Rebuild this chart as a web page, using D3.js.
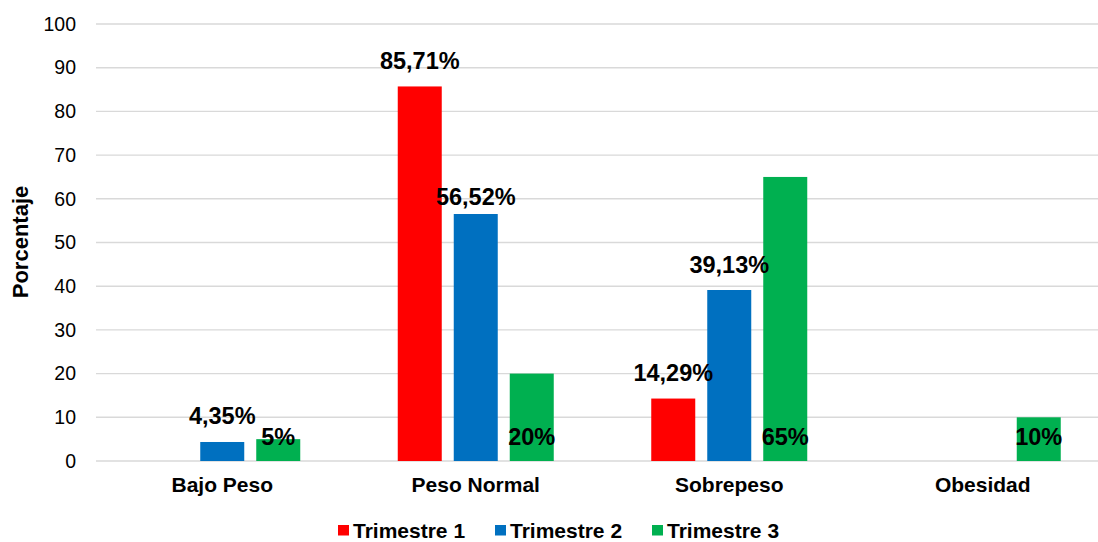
<!DOCTYPE html>
<html>
<head>
<meta charset="utf-8">
<script src="https://cdn.jsdelivr.net/npm/d3@7"></script>
<style>
  html, body { margin: 0; padding: 0; background: #ffffff; }
  svg { display: block; font-family: "Liberation Sans", Arial, sans-serif; }
</style>
</head>
<body>
<svg id="chart" width="1098" height="542"></svg>
<script>
// Categories and series
const categories = ["Bajo Peso", "Peso Normal", "Sobrepeso", "Obesidad"];
const seriesNames = ["Trimestre 1", "Trimestre 2", "Trimestre 3"];
const trimestre1 = [null, 85.71, 14.29, null];
const trimestre2 = [4.35, 56.52, 39.13, null];
const trimestre3 = [5, 20, 65, 10];
const labels1 = ["", "85,71%", "14,29%", ""];
const labels2 = ["4,35%", "56,52%", "39,13%", ""];
const labels3 = ["5%", "20%", "65%", "10%"];
const yTicks = [0, 10, 20, 30, 40, 50, 60, 70, 80, 90, 100];
const colors = ["#ff0000", "#0070c0", "#00b050"];

const seriesValues = [trimestre1, trimestre2, trimestre3];
const seriesLabels = [labels1, labels2, labels3];

const svg = d3.select("#chart");

const x0 = d3.scaleBand().domain(categories).range([95.5, 1109.5]).padding(0);
const groupWidth = 156;
const x1 = d3.scaleBand()
  .domain(seriesNames)
  .range([(x0.bandwidth() - groupWidth) / 2, (x0.bandwidth() + groupWidth) / 2])
  .paddingInner(12 / 56)
  .paddingOuter(0);
const y = d3.scaleLinear().domain([0, 100]).range([461, 24]);

// Horizontal gridlines
svg.append("g")
  .selectAll("line")
  .data(yTicks)
  .join("line")
  .attr("x1", 96)
  .attr("x2", 1098)
  .attr("y1", d => y(d))
  .attr("y2", d => y(d))
  .attr("stroke", "#d9d9d9")
  .attr("stroke-width", 1.4);

// Y axis tick labels
const yAxis = d3.axisLeft(y).tickValues(yTicks).tickSize(0).tickPadding(0).tickFormat(d3.format("d"));
const yG = svg.append("g").attr("transform", "translate(76,0)").call(yAxis);
yG.select(".domain").remove();
yG.selectAll("text")
  .attr("font-size", 19.5)
  .attr("fill", "#000")
  .attr("font-family", "Liberation Sans, Arial, sans-serif");

// Y axis title
svg.append("text")
  .attr("transform", "translate(28,242) rotate(-90)")
  .attr("text-anchor", "middle")
  .attr("font-size", 22)
  .attr("font-weight", "bold")
  .attr("fill", "#000")
  .text("Porcentaje");

// Bars
const rows = [];
seriesNames.forEach((s, si) => {
  categories.forEach((c, ci) => {
    rows.push({ series: s, si, category: c, value: seriesValues[si][ci], label: seriesLabels[si][ci] });
  });
});

svg.append("g")
  .selectAll("rect")
  .data(rows.filter(d => d.value != null))
  .join("rect")
  .attr("x", d => x0(d.category) + x1(d.series))
  .attr("y", d => y(d.value))
  .attr("width", x1.bandwidth())
  .attr("height", d => y(0) - y(d.value))
  .attr("fill", d => colors[d.si]);

// Data labels: Trimestre 1 and 2 above the bar end, Trimestre 3 inside the base
const nudge = { "Peso Normal|Trimestre 2": 8 };
svg.append("g")
  .selectAll("text")
  .data(rows.filter(d => d.value != null && d.label))
  .join("text")
  .attr("x", d => x0(d.category) + x1(d.series) + x1.bandwidth() / 2)
  .attr("y", d => d.si === 2
    ? y(0) - 16.5
    : y(d.value) - 17.5 + (nudge[d.category + "|" + d.series] || 0))
  .attr("text-anchor", "middle")
  .attr("font-size", 23.5)
  .attr("font-weight", "bold")
  .attr("fill", "#000")
  .text(d => d.label);

// Category labels
const xAxis = d3.axisBottom(x0).tickSize(0).tickPadding(0);
const xG = svg.append("g").attr("transform", "translate(0,476)").call(xAxis);
xG.select(".domain").remove();
xG.selectAll("text")
  .attr("dy", 0)
  .attr("y", 15.5)
  .attr("font-size", 21)
  .attr("font-weight", "bold")
  .attr("fill", "#000")
  .attr("font-family", "Liberation Sans, Arial, sans-serif");

// Legend
const legendX = d3.scalePoint().domain(seriesNames).range([338, 652]);
const legend = svg.append("g")
  .selectAll("g")
  .data(seriesNames)
  .join("g")
  .attr("transform", d => `translate(${legendX(d)},0)`);
legend.append("rect")
  .attr("x", 0)
  .attr("y", 525)
  .attr("width", 11)
  .attr("height", 10.5)
  .attr("fill", (d, i) => colors[i]);
legend.append("text")
  .attr("x", 15)
  .attr("y", 538)
  .attr("font-size", 21)
  .attr("font-weight", "bold")
  .attr("fill", "#000")
  .text(d => d);
</script>
</body>
</html>
